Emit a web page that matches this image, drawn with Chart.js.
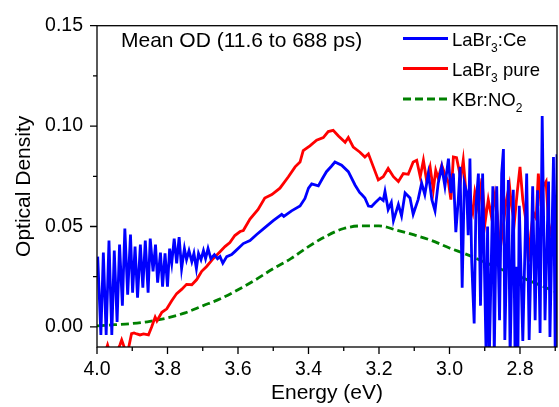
<!DOCTYPE html>
<html>
<head>
<meta charset="utf-8">
<script src="https://cdn.jsdelivr.net/npm/chart.js@4.4.1/dist/chart.umd.min.js"></script>
<style>
    html, body { margin: 0; padding: 0; background: #fff; }
    #od-chart { display: block; }
</style>
</head>
<body>
<canvas id="od-chart" width="559" height="407"></canvas>
<script>
// LaBr3:Ce
const ceEnergy = [3.998, 3.989, 3.982, 3.974, 3.966, 3.958, 3.951, 3.943, 3.936, 3.928, 3.921, 3.913, 3.905, 3.899,
    3.892, 3.885, 3.877, 3.870, 3.863, 3.855, 3.849, 3.841, 3.834, 3.828, 3.820, 3.814, 3.807, 3.800, 3.794, 3.788,
    3.781, 3.774, 3.767, 3.760, 3.752, 3.746, 3.739, 3.731, 3.725, 3.718, 3.712, 3.705, 3.698, 3.692, 3.685, 3.677,
    3.667, 3.658, 3.651, 3.643, 3.632, 3.618, 3.609, 3.585, 3.566, 3.547, 3.528, 3.500, 3.476, 3.470, 3.448, 3.424,
    3.410, 3.400, 3.391, 3.372, 3.360, 3.349, 3.335, 3.325, 3.306, 3.287, 3.268, 3.255, 3.249, 3.240, 3.230, 3.221,
    3.211, 3.197, 3.188, 3.183, 3.174, 3.165, 3.159, 3.145, 3.136, 3.126, 3.112, 3.103, 3.089, 3.079, 3.070, 3.060,
    3.050, 3.041, 3.032, 3.022, 3.013, 3.003, 2.996, 2.989, 2.982, 2.975, 2.970, 2.964, 2.958, 2.951, 2.947, 2.942,
    2.937, 2.930, 2.925, 2.918, 2.912, 2.906, 2.896, 2.892, 2.887, 2.877, 2.873, 2.866, 2.858, 2.852, 2.847, 2.843,
    2.833, 2.828, 2.819, 2.814, 2.810, 2.806, 2.802, 2.792, 2.781, 2.774, 2.764, 2.757, 2.750, 2.743, 2.737, 2.729,
    2.719, 2.715, 2.705, 2.700, 2.695];
const ceOD = [0.035, -0.004, 0.037, -0.004, 0.043, -0.004, 0.038, 0.0025, 0.041, 0.0106, 0.049, 0.016, 0.046, 0.017,
    0.040, 0.0146, 0.041, 0.0195, 0.043, 0.017, 0.044, 0.0277, 0.041, 0.022, 0.037, 0.020, 0.0366, 0.020, 0.039, 0.0317,
    0.044, 0.0317, 0.0447, 0.029, 0.039, 0.0335, 0.038, 0.0325, 0.0366, 0.029, 0.0366, 0.0335, 0.038, 0.034, 0.039, 0.034,
    0.036, 0.034, 0.035, 0.0317, 0.035, 0.036, 0.0375, 0.0415, 0.043, 0.046, 0.0488, 0.0529, 0.0561, 0.055, 0.0578, 0.0602,
    0.064, 0.0691, 0.0712, 0.0702, 0.074, 0.0773, 0.080, 0.0821, 0.0805, 0.0773, 0.0707, 0.067, 0.0659, 0.0642, 0.0602, 0.060,
    0.0618, 0.0642, 0.063, 0.0675, 0.0585, 0.062, 0.0529, 0.061, 0.0553, 0.0667, 0.0642, 0.0561, 0.0634, 0.0716, 0.0659, 0.0764,
    0.0634, 0.0578, 0.0716, 0.0797, 0.070, 0.0838, 0.0667, 0.0764, 0.0472, 0.0634, 0.0797, 0.0195, 0.0716, 0.0667, 0.0457, 0.0838,
    0.0325, 0.0017, 0.060, 0.0764, 0.0106, 0.0764, -0.015, 0.050, -0.015, 0.070, -0.015, 0.070, 0.0033, 0.0764, 0.0886, -0.0065,
    0.0732, -0.015, 0.0683, -0.015, 0.030, -0.015, 0.0603, -0.007, 0.0764, -0.0065, 0.070, 0.0033, 0.068, -0.003, 0.105, 0.0033,
    0.0724, -0.005, 0.0846, -0.015, 0.086];

// LaBr3 pure
const pureEnergy = [3.990, 3.970, 3.965, 3.945, 3.935, 3.930, 3.921, 3.911, 3.902, 3.895, 3.887, 3.878, 3.868, 3.854,
    3.845, 3.835, 3.830, 3.816, 3.802, 3.788, 3.774, 3.760, 3.746, 3.731, 3.717, 3.703, 3.689, 3.670, 3.651, 3.637,
    3.623, 3.609, 3.594, 3.585, 3.566, 3.543, 3.524, 3.504, 3.481, 3.457, 3.438, 3.424, 3.415, 3.396, 3.377, 3.358,
    3.344, 3.330, 3.315, 3.296, 3.287, 3.273, 3.254, 3.240, 3.230, 3.216, 3.202, 3.188, 3.174, 3.159, 3.145, 3.131,
    3.117, 3.103, 3.093, 3.083, 3.074, 3.065, 3.055, 3.046, 3.039, 3.032, 3.022, 3.013, 3.003, 2.996, 2.989, 2.980,
    2.975, 2.968, 2.961, 2.953, 2.944, 2.934, 2.928, 2.918, 2.908, 2.899, 2.890, 2.880, 2.871, 2.864, 2.857, 2.847,
    2.840, 2.830, 2.824, 2.816, 2.808, 2.800, 2.792, 2.784, 2.776, 2.769, 2.762, 2.754, 2.748, 2.740, 2.734, 2.726,
    2.719, 2.713, 2.705, 2.695];
const pureOD = [-0.020, -0.009, -0.012, -0.013, -0.009, -0.0065, -0.011, -0.011, -0.0033, -0.003, -0.0035, -0.004, -0.0035, -0.004,
    0.000, 0.0049, 0.003, 0.0073, 0.009, 0.013, 0.0166, 0.0187, 0.0212, 0.021, 0.0236, 0.0277, 0.0301, 0.0341, 0.0374, 0.040,
    0.042, 0.0455, 0.0475, 0.048, 0.0537, 0.0585, 0.0642, 0.0659, 0.0691, 0.0748, 0.0797, 0.0821, 0.0878, 0.0902, 0.093, 0.0943,
    0.0973, 0.0979, 0.0951, 0.0919, 0.0943, 0.0895, 0.087, 0.0846, 0.0862, 0.0797, 0.0732, 0.0748, 0.0789, 0.0748, 0.0724, 0.0764,
    0.076, 0.0821, 0.083, 0.0748, 0.083, 0.073, 0.0797, 0.0683, 0.078, 0.074, 0.0805, 0.076, 0.072, 0.0634, 0.0846, 0.0843,
    0.080, 0.074, 0.083, 0.0667, 0.0634, 0.057, 0.067, 0.0585, 0.074, 0.052, 0.0634, 0.054, 0.0655, 0.0553, 0.0374, 0.0512,
    0.0618, 0.0707, 0.0602, 0.052, 0.0667, 0.0797, 0.0634, 0.054, 0.0325, 0.047, 0.057, 0.054, 0.0764, 0.0602, 0.070, 0.0724,
    0.052, 0.047, 0.0423, 0.0277];

// KBr:NO2
const kbrEnergy = [4.00, 3.95, 3.90, 3.85, 3.80, 3.75, 3.70, 3.65, 3.60, 3.55, 3.50, 3.45, 3.40, 3.35, 3.30, 3.25,
    3.20, 3.15, 3.10, 3.05, 3.00, 2.95, 2.90, 2.85, 2.80, 2.75, 2.70];
const kbrOD = [0.0005, 0.0011, 0.0017, 0.0028, 0.0045, 0.0070, 0.0105, 0.0140, 0.0185, 0.0235, 0.0290, 0.0340, 0.0400, 0.0452,
    0.0490, 0.0503, 0.0503, 0.0482, 0.0458, 0.0430, 0.0393, 0.0360, 0.0322, 0.0285, 0.0250, 0.0213, 0.0176];

const xTicks = [4.0, 3.8, 3.6, 3.4, 3.2, 3.0, 2.8];
const xMinorTicks = [3.9, 3.7, 3.5, 3.3, 3.1, 2.9, 2.7];
const yTicks = [0.00, 0.05, 0.10, 0.15];
const yMinorTicks = [0.025, 0.075, 0.125];

const seriesNames = ['LaBr3:Ce', 'LaBr3 pure', 'KBr:NO2'];
const chartNote = 'Mean OD (11.6 to 688 ps)';

document.addEventListener('DOMContentLoaded', function () {
    function toPoints(xs, ys) {
        return xs.map((x, i) => ({ x: x, y: ys[i] }));
    }

    // frame + outward major/minor ticks, drawn over the data like Origin does
    const framePlugin = {
        id: 'frame',
        afterDatasetsDraw(chart) {
            const { ctx, chartArea: a, scales } = chart;
            ctx.save();
            ctx.strokeStyle = '#000';
            ctx.lineWidth = 1.3;
            ctx.strokeRect(a.left, a.top, a.right - a.left, a.bottom - a.top);

            ctx.beginPath();
            xTicks.forEach((v) => {
                const px = scales.x.getPixelForValue(v);
                ctx.moveTo(px, a.bottom); ctx.lineTo(px, a.bottom + 7);
            });
            xMinorTicks.forEach((v) => {
                const px = scales.x.getPixelForValue(v);
                if (px > a.right + 1) return;
                ctx.moveTo(px, a.bottom); ctx.lineTo(px, a.bottom + 4);
            });
            yTicks.forEach((v) => {
                const py = scales.y.getPixelForValue(v);
                ctx.moveTo(a.left, py); ctx.lineTo(a.left - 7, py);
            });
            yMinorTicks.forEach((v) => {
                const py = scales.y.getPixelForValue(v);
                ctx.moveTo(a.left, py); ctx.lineTo(a.left - 4, py);
            });
            ctx.stroke();
            ctx.restore();
        }
    };

    // legend with subscripts, and the note in the top left
    function drawSubText(ctx, x, y, parts) {
        parts.forEach((p) => {
            if (p.sub) {
                ctx.font = '12px Arial, "Liberation Sans", sans-serif';
                ctx.fillText(p.text, x, y + 6);
            } else {
                ctx.font = '18.5px Arial, "Liberation Sans", sans-serif';
                ctx.fillText(p.text, x, y);
            }
            x += ctx.measureText(p.text).width;
        });
    }

    const labelPlugin = {
        id: 'labels',
        afterDraw(chart) {
            const ctx = chart.ctx;
            ctx.save();
            ctx.fillStyle = '#000';
            ctx.textBaseline = 'alphabetic';
            ctx.font = '21px Arial, "Liberation Sans", sans-serif';
            ctx.fillText(chartNote, 121, 46.5);

            const rows = [
                { y: 38.5, color: '#0000ff', dash: [], parts: [{ text: 'LaBr' }, { text: '3', sub: true }, { text: ':Ce' }] },
                { y: 68.5, color: '#ff0000', dash: [], parts: [{ text: 'LaBr' }, { text: '3', sub: true }, { text: ' pure' }] },
                { y: 99, color: '#008000', dash: [8, 4], parts: [{ text: 'KBr:NO' }, { text: '2', sub: true }] }
            ];
            rows.forEach((r) => {
                ctx.beginPath();
                ctx.strokeStyle = r.color;
                ctx.lineWidth = 2.8;
                ctx.setLineDash(r.dash);
                ctx.moveTo(403, r.y);
                ctx.lineTo(448, r.y);
                ctx.stroke();
                ctx.setLineDash([]);
                drawSubText(ctx, 452, r.y + 7, r.parts);
            });
            ctx.restore();
        }
    };

    const tickFont = { family: 'Arial, "Liberation Sans", sans-serif', size: 19.5 };
    const titleFont = { family: 'Arial, "Liberation Sans", sans-serif', size: 21 };

    new Chart(document.getElementById('od-chart'), {
        type: 'line',
        data: {
            datasets: [
                {
                    label: seriesNames[0],
                    data: toPoints(ceEnergy, ceOD),
                    borderColor: '#0000ff',
                    borderWidth: 2.8,
                    pointRadius: 0,
                    tension: 0
                },
                {
                    label: seriesNames[1],
                    data: toPoints(pureEnergy, pureOD),
                    borderColor: '#ff0000',
                    borderWidth: 2.8,
                    pointRadius: 0,
                    tension: 0
                },
                {
                    label: seriesNames[2],
                    data: toPoints(kbrEnergy, kbrOD),
                    borderColor: '#008000',
                    borderWidth: 2.8,
                    borderDash: [8, 4],
                    pointRadius: 0,
                    cubicInterpolationMode: 'monotone'
                }
            ]
        },
        options: {
            responsive: false,
            animation: false,
            layout: { padding: { top: 18.5, right: 2, left: 0, bottom: 0 } },
            plugins: {
                legend: { display: false },
                tooltip: { enabled: false }
            },
            scales: {
                x: {
                    type: 'linear',
                    reverse: true,
                    min: 2.695,
                    max: 4.0,
                    afterBuildTicks: (scale) => { scale.ticks = xTicks.map((v) => ({ value: v })); },
                    afterFit: (scale) => { scale.height = 60; },
                    grid: { display: false, drawTicks: false },
                    border: { display: false },
                    ticks: {
                        color: '#000',
                        font: tickFont,
                        padding: 11,
                        maxRotation: 0,
                        callback: (v) => Number(v).toFixed(1)
                    },
                    title: {
                        display: true,
                        text: 'Energy (eV)',
                        color: '#000',
                        font: titleFont,
                        padding: { top: 0, bottom: 1 }
                    }
                },
                y: {
                    min: -0.01,
                    max: 0.15,
                    afterBuildTicks: (scale) => { scale.ticks = yTicks.map((v) => ({ value: v })); },
                    afterFit: (scale) => { scale.width = 97; },
                    grid: { display: false, drawTicks: false },
                    border: { display: false },
                    ticks: {
                        color: '#000',
                        font: tickFont,
                        padding: 14,
                        callback: (v) => Number(v).toFixed(2)
                    },
                    title: {
                        display: true,
                        text: 'Optical Density',
                        color: '#000',
                        font: titleFont,
                        padding: { top: 12, bottom: 0 }
                    }
                }
            }
        },
        plugins: [framePlugin, labelPlugin]
    });
});
</script>
</body>
</html>
